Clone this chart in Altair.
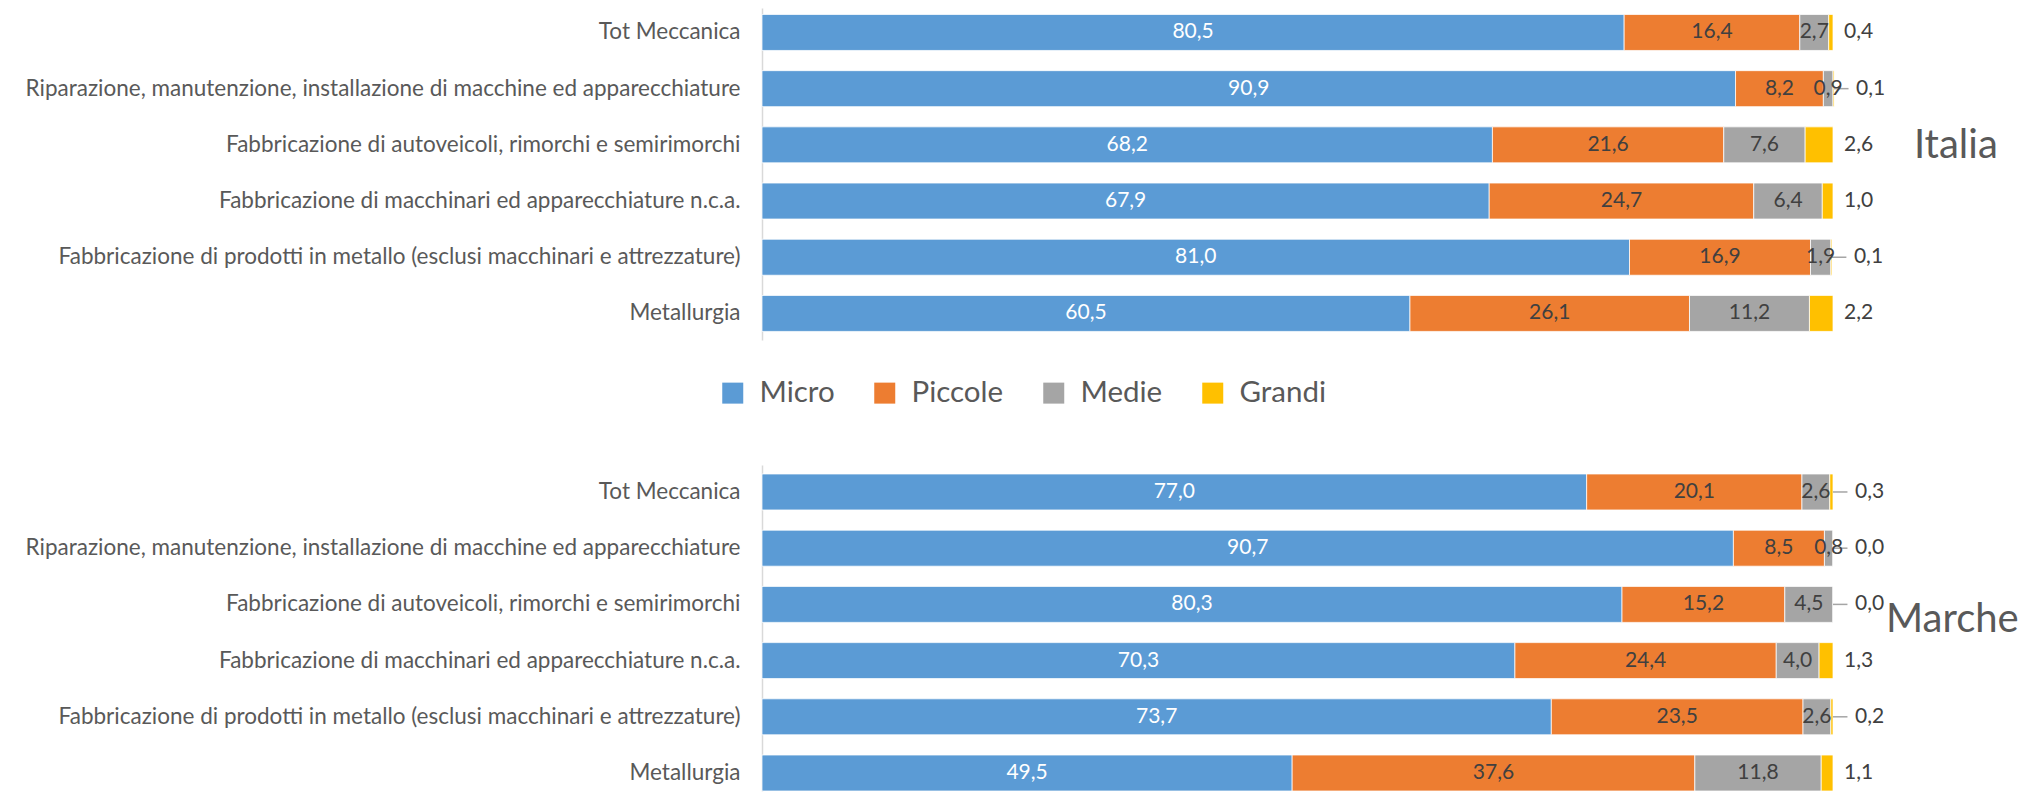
import altair as alt
import pandas as pd

FONT = "Lato"

categories = [
    "Tot Meccanica",
    "Riparazione, manutenzione, installazione di macchine ed apparecchiature",
    "Fabbricazione di autoveicoli, rimorchi e semirimorchi",
    "Fabbricazione di macchinari ed apparecchiature n.c.a.",
    "Fabbricazione di prodotti in metallo (esclusi macchinari e attrezzature)",
    "Metallurgia",
]
classes = ["Micro", "Piccole", "Medie", "Grandi"]
colors = ["#5B9BD5", "#ED7D31", "#A5A5A5", "#FFC000"]

italia_micro = [80.5, 90.9, 68.2, 67.9, 81.0, 60.5]
italia_piccole = [16.4, 8.2, 21.6, 24.7, 16.9, 26.1]
italia_medie = [2.7, 0.9, 7.6, 6.4, 1.9, 11.2]
italia_grandi = [0.4, 0.1, 2.6, 1.0, 0.1, 2.2]

marche_micro = [77.0, 90.7, 80.3, 70.3, 73.7, 49.5]
marche_piccole = [20.1, 8.5, 15.2, 24.4, 23.5, 37.6]
marche_medie = [2.6, 0.8, 4.5, 4.0, 2.6, 11.8]
marche_grandi = [0.3, 0.0, 0.0, 1.3, 0.2, 1.1]


def build_df(series):
    rows = []
    for i, cat in enumerate(categories):
        start = 0.0
        for k, cls in enumerate(classes):
            v = series[k][i]
            rows.append(dict(cat=cat, cls=cls, order=k, start=start, end=start + v,
                             mid=start + v / 2, value=v,
                             label=f"{v:.1f}".replace(".", ",")))
            start += v
    return pd.DataFrame(rows)


df_it = build_df([italia_micro, italia_piccole, italia_medie, italia_grandi])
df_ma = build_df([marche_micro, marche_piccole, marche_medie, marche_grandi])


def panel(df, title, width, height, pad_outer, align, legend, title_x, title_y):
    base = alt.Chart(df)
    y = alt.Y(
        "cat:N", sort=categories, title=None,
        scale=alt.Scale(paddingInner=0.36, paddingOuter=pad_outer, align=align),
        axis=alt.Axis(ticks=False, domainColor="#D9D9D9", domainWidth=1.5,
                      labelFont=FONT, labelFontSize=22.5, labelColor="#595959",
                      labelPadding=22, labelLimit=0),
    )
    xs = alt.Scale(domain=[0, 100], nice=False, zero=True)
    bars = base.mark_bar(stroke="#FFFFFF", strokeWidth=0.75).encode(
        x=alt.X("start:Q", scale=xs, axis=None),
        x2="end:Q",
        y=y,
        color=alt.Color("cls:N", scale=alt.Scale(domain=classes, range=colors),
                        sort=classes, legend=legend),
        order="order:Q",
    )
    inside = base.transform_filter("datum.cls != 'Grandi'").mark_text(
        font=FONT, fontSize=21, baseline="middle", align="center"
    ).encode(
        x=alt.X("mid:Q", scale=xs, axis=None),
        y=y,
        text="label:N",
        color=alt.condition("datum.cls == 'Micro'", alt.value("#FFFFFF"), alt.value("#404040")),
    )
    out_near = base.transform_filter("datum.cls == 'Grandi' && datum.value >= 0.35").mark_text(
        font=FONT, fontSize=21, baseline="middle", align="left", dx=11, color="#404040"
    ).encode(x=alt.X("end:Q", scale=xs, axis=None), y=y, text="label:N")
    out_far = base.transform_filter("datum.cls == 'Grandi' && datum.value < 0.35").mark_text(
        font=FONT, fontSize=21, baseline="middle", align="left", dx=22, color="#404040"
    ).encode(x=alt.X("end:Q", scale=xs, axis=None), y=y, text="label:N")
    leader = base.transform_filter("datum.cls == 'Grandi' && datum.value < 0.35").transform_calculate(
        lx="datum.end + 1.35"
    ).mark_rule(color="#A5A5A5", strokeWidth=1.5).encode(
        x=alt.X("end:Q", scale=xs, axis=None), x2="lx:Q", y=y
    )
    ttl = alt.Chart(pd.DataFrame({"t": [title]})).mark_text(
        font=FONT, fontSize=40, color="#595959", align="left", baseline="middle"
    ).encode(x=alt.value(title_x), y=alt.value(title_y), text="t:N")
    return alt.layer(bars, leader, inside, out_near, out_far, ttl).properties(
        width=width, height=height
    )


legend_it = alt.Legend(
    orient="none", legendX=-44, legendY=370, direction="horizontal", title=None,
    symbolType="square", symbolSize=441, symbolStrokeWidth=0,
    labelFont=FONT, labelFontSize=29.5, labelColor="#595959", labelOffset=12,
    columnPadding=35, padding=0,
)

italia = panel(df_it, "Italia", 1071, 332, 0.134, 0.43, legend_it, 1152, 138)
marche = panel(df_ma, "Marche", 1071, 326, 0.08, 1.0, None, 1124, 155)

chart = alt.vconcat(italia, marche, spacing=125, bounds="flush").resolve_scale(
    color="independent"
).properties(
    padding={"left": 17, "top": 0, "right": 0, "bottom": 0}
).configure_view(stroke=None)

chart.save("out.html", embed_options={"renderer": "svg", "actions": False})
